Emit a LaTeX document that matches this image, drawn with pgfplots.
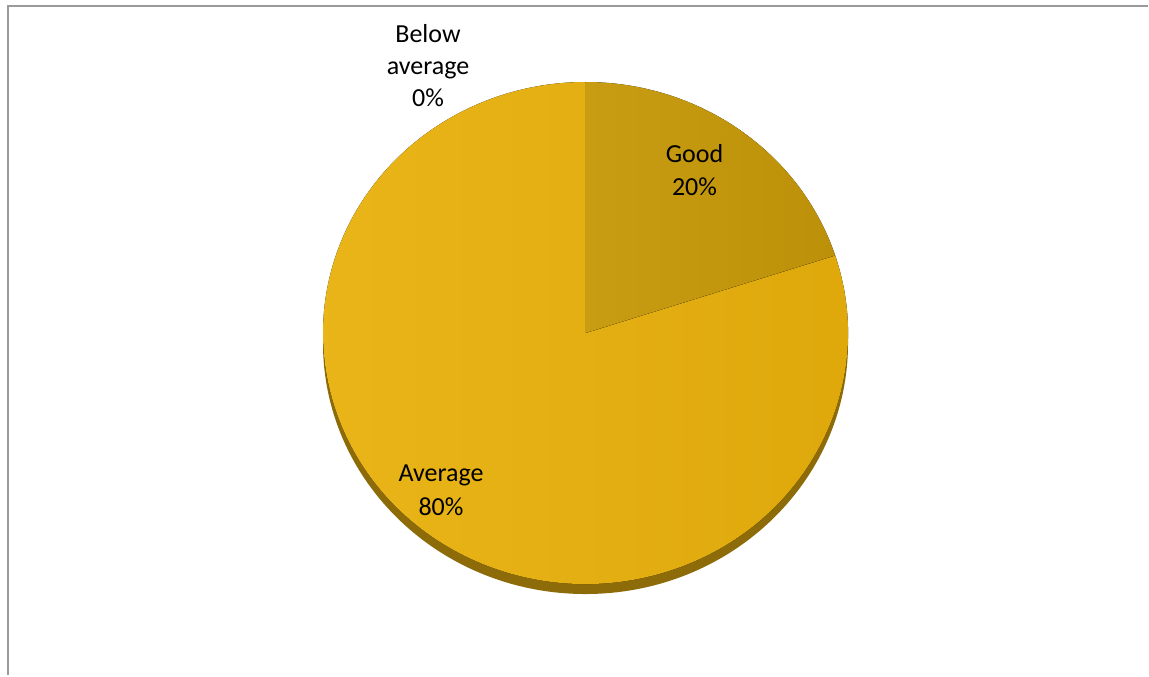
\documentclass[border=0pt]{standalone}
\usepackage{pgfplots}
\pgfplotsset{compat=1.18}
\usepackage{pgfplotstable}
\usepackage{fontspec}
\setmainfont{Carlito}
\definecolor{avgL}{HTML}{E9B519}
\definecolor{avgR}{HTML}{DEA80B}
\definecolor{goodL}{HTML}{C89D13}
\definecolor{goodR}{HTML}{BC9109}
\definecolor{pieedge}{HTML}{8C6B08}
\definecolor{frame}{HTML}{9A9A9A}
\pgfplotstableread{
label value
Good 20
Average 80
Below 0
}\piedata
\begin{document}
\begin{tikzpicture}
\pgfplotstablegetelem{0}{value}\of\piedata
\pgfmathsetmacro{\vgood}{\pgfplotsretval}
\pgfplotstablegetelem{1}{value}\of\piedata
\pgfmathsetmacro{\vavg}{\pgfplotsretval}
\pgfplotstablegetelem{2}{value}\of\piedata
\pgfmathsetmacro{\vbelow}{\pgfplotsretval}
\pgfmathsetmacro{\tot}{\vgood+\vavg+\vbelow}
\pgfmathsetmacro{\fgood}{\vgood/\tot}
\pgfmathsetmacro{\favg}{\vavg/\tot}
\pgfmathsetmacro{\aA}{90}
\pgfmathsetmacro{\aB}{90-360*\fgood}
\pgfmathsetmacro{\aC}{\aB-360*\favg}
% pie geometry in pixel units of the axis
\pgfmathsetmacro{\cx}{585.5}
\pgfmathsetmacro{\cy}{333}
\pgfmathsetmacro{\pxA}{\cx+262.5*cos(\aA)}
\pgfmathsetmacro{\pyA}{\cy-251*sin(\aA)}
\pgfmathsetmacro{\pxB}{\cx+262.5*cos(\aB)}
\pgfmathsetmacro{\pyB}{\cy-251*sin(\aB)}
\begin{axis}[
  width=574.5pt, height=337.5pt, scale only axis,
  xmin=0, xmax=1149, ymin=0, ymax=675, y dir=reverse,
  axis lines=none, clip=false,
]
\path (axis cs:0,0) (axis cs:1149,675);
% frame
\draw[frame, line width=1pt] (axis cs:7.5,675) -- (axis cs:7.5,5.5) -- (axis cs:1148,5.5);
% 3D edge
\fill[pieedge] (axis cs:585.5,343) ellipse[x radius=131.25pt, y radius=125.5pt];
% Average slice
\fill[left color=avgL, right color=avgR] (axis cs:\cx,\cy) -- (axis cs:\pxB,\pyB)
  arc[start angle=\aB, end angle=\aC, x radius=131.25pt, y radius=125.5pt] -- cycle;
% Good slice
\fill[left color=goodL, right color=goodR] (axis cs:\cx,\cy) -- (axis cs:\pxA,\pyA)
  arc[start angle=\aA, end angle=\aB, x radius=131.25pt, y radius=125.5pt] -- cycle;
% labels
\begin{scope}[every node/.style={font=\fontsize{13}{16}\selectfont, anchor=base, inner sep=0pt}]
\node at (axis cs:428,42) {Below};
\node at (axis cs:428,74) {average};
\node at (axis cs:428,106) {0\%};
\node at (axis cs:694.5,162) {Good};
\node at (axis cs:694.5,195) {20\%};
\node at (axis cs:441,481) {Average};
\node at (axis cs:441,515) {80\%};
\end{scope}
\end{axis}
\end{tikzpicture}
\end{document}
